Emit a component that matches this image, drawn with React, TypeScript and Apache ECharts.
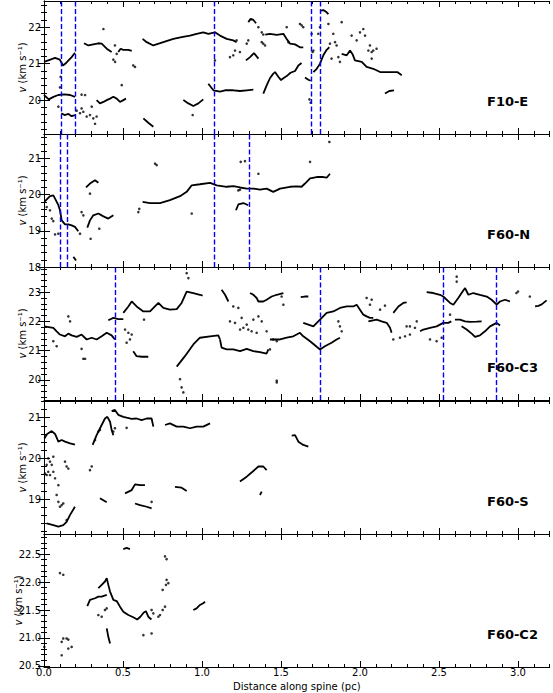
import React, { useEffect, useRef } from 'react';
import * as echarts from 'echarts';

const FONT = '"DejaVu Sans", sans-serif';
const X_MAX = 3.2;
const xMajorTicks = [0, 0.5, 1.0, 1.5, 2.0, 2.5, 3.0];

const panelNames = ['F10-E', 'F60-N', 'F60-C3', 'F60-S', 'F60-C2'];
const yRanges = [[19.07, 22.72], [18.0, 21.68], [19.31, 23.86], [18.14, 21.41], [20.48, 22.86]];
const yMajorTicks = [[20, 21, 22], [18, 19, 20, 21], [20, 21, 22, 23], [19, 20, 21], [20.5, 21.0, 21.5, 22.0, 22.5]];
const yMinorStep = [0.2, 0.2, 0.2, 0.2, 0.1];
const yLabelDecimals = [0, 0, 0, 0, 1];
const yNameGaps = [17, 17, 17, 17, 21];
const dashedLines = [
  [0.112, 0.2, 1.082, 1.69, 1.745],
  [0.103, 0.147, 1.078, 1.304],
  [0.449, 1.749, 2.532, 2.863],
  [],
  [],
];

// ---------- F10-E ----------
const f10eCurves = [
  [[0.0, 21.05], [0.04, 21.11], [0.07, 21.16], [0.1, 21.11], [0.12, 20.95], [0.14, 21.02], [0.175, 21.18], [0.196, 21.3]],
  [[0.0, 20.14], [0.03, 20.02], [0.06, 20.09], [0.09, 20.14], [0.13, 20.16], [0.165, 20.14], [0.196, 20.09]],
  [[0.11, 19.64], [0.13, 19.59], [0.155, 19.62], [0.175, 19.56], [0.196, 19.59]],
  [[0.333, 20.0], [0.354, 19.91], [0.376, 19.95], [0.397, 20.0], [0.418, 20.04], [0.439, 20.09], [0.46, 20.04], [0.481, 19.95], [0.502, 20.0], [0.519, 20.04]],
  [[0.253, 21.56], [0.281, 21.5], [0.312, 21.53], [0.344, 21.56], [0.365, 21.55], [0.397, 21.41], [0.428, 21.32]],
  [[0.47, 21.32], [0.485, 21.41], [0.502, 21.38], [0.534, 21.38], [0.555, 21.35]],
  [[0.629, 19.5], [0.66, 19.38], [0.692, 19.27]],
  [[0.624, 21.68], [0.65, 21.59], [0.692, 21.5], [0.755, 21.59], [0.819, 21.68], [0.871, 21.73], [0.924, 21.77], [0.966, 21.82], [1.008, 21.86], [1.04, 21.82], [1.082, 21.86], [1.114, 21.77], [1.156, 21.68], [1.198, 21.64], [1.219, 21.59]],
  [[1.4, 21.8], [1.43, 21.82], [1.473, 21.79], [1.515, 21.82], [1.536, 21.68], [1.557, 21.55], [1.589, 21.53], [1.62, 21.45], [1.641, 21.45]],
  [[1.04, 20.45], [1.072, 20.27], [1.114, 20.23], [1.146, 20.27], [1.198, 20.27], [1.241, 20.25], [1.283, 20.27], [1.325, 20.29]],
  [[1.388, 20.18], [1.41, 20.41], [1.43, 20.6], [1.45, 20.72], [1.462, 20.77], [1.483, 20.64], [1.5, 20.55], [1.515, 20.6], [1.536, 20.66], [1.56, 20.75], [1.589, 20.8], [1.61, 20.95], [1.63, 21.02]],
  [[1.652, 20.62], [1.673, 20.56], [1.688, 20.53]],
  [[1.705, 20.77], [1.726, 20.86], [1.747, 21.0], [1.768, 21.23], [1.789, 21.38], [1.806, 21.45]],
  [[1.884, 21.27], [1.916, 21.23], [1.937, 21.36], [1.954, 21.25], [1.968, 21.09], [2.011, 21.05], [2.042, 20.91], [2.084, 20.86], [2.127, 20.77], [2.169, 20.77], [2.211, 20.77], [2.236, 20.77], [2.264, 20.68]],
  [[2.158, 20.18], [2.186, 20.25], [2.215, 20.27]],
  [[0.882, 20.0], [0.914, 19.91], [0.945, 19.84], [0.977, 19.91], [1.008, 20.02]],
  [[1.293, 22.14], [1.308, 22.23], [1.325, 22.2], [1.342, 22.11]],
  [[1.278, 21.09], [1.304, 21.18], [1.329, 21.29], [1.357, 21.14]],
  [[1.747, 22.45], [1.768, 22.47], [1.789, 22.41], [1.8, 22.36]],
];
const f10eDots = [
  [0.091, 19.82], [0.105, 20.64], [0.101, 20.35], [0.207, 19.71], [0.228, 19.64], [0.249, 19.68], [0.27, 19.55], [0.291, 19.59],
  [0.312, 19.5], [0.333, 19.55], [0.238, 19.77], [0.302, 19.82], [0.323, 19.35], [0.238, 20.15], [0.26, 20.14], [0.492, 20.41],
  [0.376, 21.95], [0.449, 21.5], [0.46, 21.27], [0.439, 21.11], [0.45, 21.05], [0.565, 20.95], [0.576, 20.91], [0.941, 19.59],
  [1.198, 21.23], [1.177, 21.18], [1.24, 21.32], [1.209, 21.36], [1.219, 21.64], [1.283, 21.55], [1.293, 21.64], [1.388, 21.55],
  [1.378, 21.59], [1.399, 21.5], [1.357, 22.0], [1.378, 21.86], [1.388, 21.8], [1.082, 21.09], [1.705, 21.36], [1.736, 21.82],
  [1.747, 22.0], [1.8, 22.09], [1.81, 21.55], [1.831, 21.82], [1.842, 21.59], [1.852, 21.5], [1.863, 21.18], [1.82, 21.14],
  [1.873, 21.05], [1.884, 22.14], [1.947, 21.77], [1.979, 21.64], [2.0, 21.86], [2.021, 21.95], [2.032, 21.77], [2.063, 21.5],
  [2.053, 21.36], [2.074, 21.32], [2.084, 21.36], [2.105, 21.41], [2.074, 21.14], [1.536, 22.0], [1.62, 22.09], [1.631, 22.05],
  [1.641, 22.0], [1.547, 21.59], [1.7, 21.32], [1.694, 21.82], [1.68, 20.02], [1.688, 19.93],
];

// ---------- F60-N ----------
const f60nCurves = [
  [[0.002, 19.8], [0.038, 19.96], [0.059, 19.98], [0.07, 19.89], [0.091, 19.71], [0.101, 19.57], [0.112, 19.29], [0.133, 19.18], [0.154, 19.18], [0.175, 19.15], [0.196, 19.11], [0.217, 18.99]],
  [[0.266, 20.2], [0.291, 20.31], [0.323, 20.4], [0.344, 20.33]],
  [[0.274, 19.09], [0.291, 19.29], [0.312, 19.43], [0.344, 19.48], [0.376, 19.4], [0.407, 19.34], [0.439, 19.43]],
  [[0.624, 19.8], [0.671, 19.77], [0.734, 19.77], [0.797, 19.85], [0.861, 19.96], [0.903, 20.08], [0.935, 20.26], [0.987, 20.29], [1.051, 20.33], [1.093, 20.26], [1.156, 20.22], [1.198, 20.24], [1.241, 20.2], [1.283, 20.17], [1.325, 20.17], [1.367, 20.14], [1.409, 20.17], [1.451, 20.08], [1.494, 20.17], [1.557, 20.22], [1.599, 20.23], [1.63, 20.22], [1.652, 20.31], [1.684, 20.45], [1.726, 20.49], [1.768, 20.49], [1.789, 20.47], [1.81, 20.58]],
  [[1.215, 19.57], [1.23, 19.73], [1.262, 19.77], [1.293, 19.71]],
  [[0.186, 18.28], [0.203, 18.18]],
];
const f60nDots = [
  [0.038, 19.57], [0.049, 19.34], [0.059, 19.27], [0.07, 18.9], [0.091, 18.92], [0.017, 19.66], [0.228, 18.92], [0.238, 19.52],
  [0.249, 19.43], [0.291, 20.03], [0.295, 18.78], [0.35, 19.06], [0.597, 19.52], [0.603, 19.61], [0.703, 20.86], [0.713, 20.82],
  [0.935, 19.48], [1.245, 20.91], [1.272, 20.93], [1.357, 20.58], [1.23, 20.12], [1.24, 20.14], [1.684, 20.91], [1.806, 21.46],
];

// ---------- F60-C3 ----------
const f60c3Curves = [
  [[0.002, 21.83], [0.059, 21.78], [0.08, 21.66], [0.101, 21.55], [0.133, 21.49], [0.154, 21.58], [0.175, 21.52], [0.207, 21.47], [0.238, 21.55], [0.27, 21.38], [0.302, 21.44], [0.333, 21.38], [0.365, 21.49], [0.397, 21.61], [0.428, 21.52], [0.449, 21.38]],
  [[0.407, 22.04], [0.439, 22.12], [0.47, 22.08], [0.502, 22.08]],
  [[0.502, 22.29], [0.534, 22.51], [0.555, 22.68], [0.586, 22.51], [0.629, 22.34], [0.671, 22.34], [0.724, 22.63], [0.755, 22.46], [0.797, 22.4], [0.84, 22.42], [0.871, 22.63], [0.903, 23.02], [0.945, 22.97], [0.987, 22.91], [1.004, 22.88]],
  [[0.565, 20.98], [0.586, 20.81], [0.618, 20.79], [0.66, 20.79]],
  [[0.84, 20.45], [0.892, 20.81], [0.945, 21.21], [0.987, 21.44], [1.051, 21.49], [1.103, 21.52], [1.114, 21.38]],
  [[1.114, 21.38], [1.124, 21.1], [1.156, 21.04], [1.198, 21.04], [1.241, 20.98], [1.283, 21.06], [1.325, 20.98], [1.367, 20.95], [1.409, 20.9], [1.42, 21.04]],
  [[1.124, 23.08], [1.146, 22.91], [1.167, 22.68]],
  [[1.304, 22.97], [1.325, 22.91], [1.346, 22.8], [1.357, 22.68], [1.388, 22.68], [1.409, 22.74], [1.441, 22.85], [1.473, 22.91], [1.49, 22.93], [1.515, 22.97]],
  [[1.625, 22.83], [1.65, 22.85], [1.673, 22.85]],
  [[1.43, 21.38], [1.494, 21.38], [1.536, 21.44], [1.578, 21.49], [1.62, 21.61], [1.641, 21.49], [1.684, 21.32], [1.726, 21.13], [1.747, 21.04], [1.778, 21.15], [1.82, 21.27], [1.852, 21.38], [1.873, 21.44]],
  [[1.641, 21.95], [1.673, 21.89], [1.705, 21.83], [1.747, 22.06], [1.789, 22.29], [1.831, 22.34], [1.873, 22.46], [1.916, 22.51], [1.958, 22.51], [1.979, 22.57], [2.0, 22.4], [2.021, 22.23], [2.042, 22.17], [2.063, 22.12], [2.084, 22.12]],
  [[2.211, 22.29], [2.243, 22.51], [2.274, 22.63], [2.295, 22.65]],
  [[2.38, 21.66], [2.401, 21.72], [2.443, 21.78], [2.485, 21.83], [2.527, 21.95], [2.559, 21.95], [2.578, 22.0]],
  [[2.601, 22.06], [2.633, 22.06], [2.665, 22.0], [2.696, 21.98], [2.738, 21.99], [2.77, 22.0]],
  [[2.643, 21.83], [2.675, 21.72], [2.707, 21.58], [2.728, 21.47], [2.759, 21.52], [2.791, 21.66], [2.823, 21.83], [2.865, 21.95], [2.886, 21.86]],
  [[2.422, 23.0], [2.464, 22.97], [2.506, 22.91], [2.527, 22.85], [2.57, 22.63], [2.591, 22.57], [2.622, 22.8], [2.643, 22.97], [2.665, 23.14], [2.686, 22.91], [2.717, 22.97], [2.759, 22.91], [2.802, 22.85], [2.833, 22.74], [2.865, 22.57], [2.886, 22.68], [2.918, 22.74], [2.949, 22.68]],
  [[3.108, 22.51], [3.129, 22.53], [3.15, 22.58], [3.181, 22.72]],
  [[2.053, 22.0], [2.105, 22.06], [2.137, 22.0], [2.169, 21.95], [2.19, 21.78], [2.2, 21.61]],
];
const f60c3Dots = [
  [0.059, 21.32], [0.08, 21.15], [0.154, 22.17], [0.165, 22.0], [0.238, 21.06], [0.249, 20.72], [0.26, 20.72], [0.513, 21.72],
  [0.534, 21.61], [0.555, 21.55], [0.544, 21.38], [0.523, 21.27], [0.633, 22.06], [0.861, 20.02], [0.871, 19.74], [0.882, 19.57],
  [0.903, 23.65], [0.914, 23.48], [1.198, 22.51], [1.23, 22.46], [1.209, 21.95], [1.177, 22.0], [1.251, 22.12], [1.283, 21.89],
  [1.293, 21.72], [1.262, 21.78], [1.325, 22.06], [1.357, 22.17], [1.378, 22.0], [1.409, 21.66], [1.346, 21.61], [1.314, 21.66],
  [1.241, 21.72], [1.473, 19.97], [1.504, 22.85], [1.515, 22.57], [1.863, 22.0], [1.873, 21.83], [1.884, 21.66], [2.042, 22.8],
  [2.063, 22.57], [2.074, 22.74], [2.127, 22.4], [2.158, 22.54], [2.211, 21.38], [2.253, 21.44], [2.285, 21.49], [2.316, 21.55],
  [2.295, 21.83], [2.316, 21.83], [2.348, 21.78], [2.359, 22.0], [2.443, 21.38], [2.485, 21.32], [2.517, 21.44], [2.612, 23.53],
  [2.612, 23.36], [3.0, 23.02], [2.99, 22.97], [3.075, 22.85], [1.43, 21.04], [1.473, 19.91], [2.57, 22.23], [1.451, 21.38], [1.473, 21.32],
];

// ---------- F60-S ----------
const f60sCurves = [
  [[0.002, 20.49], [0.02, 20.6], [0.049, 20.67], [0.07, 20.6], [0.091, 20.41], [0.112, 20.45], [0.133, 20.41], [0.165, 20.37], [0.196, 20.34]],
  [[0.017, 18.4], [0.059, 18.36], [0.091, 18.32], [0.122, 18.36], [0.143, 18.44], [0.165, 18.61], [0.196, 18.81]],
  [[0.308, 20.33], [0.333, 20.57], [0.365, 20.82], [0.386, 20.98], [0.401, 21.02], [0.418, 20.9], [0.428, 20.7], [0.439, 20.57]],
  [[0.428, 21.16], [0.449, 21.19], [0.47, 21.07], [0.502, 21.02], [0.523, 21.0], [0.555, 20.97], [0.586, 20.98], [0.618, 20.94], [0.65, 20.98], [0.681, 20.98], [0.692, 20.78]],
  [[0.766, 20.82], [0.797, 20.86], [0.84, 20.78], [0.882, 20.78], [0.924, 20.74], [0.966, 20.78], [1.008, 20.78], [1.051, 20.86]],
  [[0.354, 19.02], [0.397, 18.92]],
  [[0.513, 19.14], [0.555, 19.22], [0.576, 19.36], [0.608, 19.34], [0.639, 19.34]],
  [[0.576, 18.89], [0.608, 18.85], [0.65, 18.81], [0.681, 18.77]],
  [[0.829, 19.3], [0.871, 19.28], [0.903, 19.2]],
  [[1.24, 19.43], [1.283, 19.55], [1.325, 19.69], [1.357, 19.8], [1.388, 19.8], [1.409, 19.71]],
  [[1.367, 19.1], [1.378, 19.18]],
  [[1.568, 20.56], [1.589, 20.57], [1.61, 20.41], [1.641, 20.33], [1.673, 20.29]],
];
const f60sDots = [
  [0.027, 20.0], [0.038, 19.92], [0.049, 19.84], [0.059, 19.67], [0.07, 19.51], [0.08, 19.1], [0.091, 18.93], [0.101, 18.81],
  [0.112, 18.85], [0.091, 19.34], [0.038, 19.59], [0.027, 19.67], [0.017, 19.84], [0.133, 19.92], [0.143, 19.8], [0.154, 19.75],
  [0.122, 18.89], [0.143, 18.48], [0.291, 19.71], [0.302, 19.8], [0.354, 20.7], [0.344, 20.66], [0.323, 20.45], [0.523, 20.75],
  [0.681, 18.93], [0.449, 20.74], [0.439, 20.66], [0.059, 20.04], [0.006, 19.63], [0.017, 19.59],
];

// ---------- F60-C2 ----------
const f60c2Curves = [
  [[0.274, 21.57], [0.291, 21.68], [0.323, 21.71], [0.344, 21.74], [0.365, 21.74], [0.397, 21.77]],
  [[0.344, 21.89], [0.365, 21.95], [0.386, 22.01], [0.397, 22.07], [0.407, 21.95], [0.418, 21.83], [0.439, 21.68], [0.46, 21.66], [0.481, 21.56], [0.502, 21.47], [0.534, 21.41], [0.565, 21.37], [0.59, 21.33], [0.61, 21.38], [0.63, 21.45], [0.645, 21.48], [0.66, 21.38], [0.68, 21.33]],
  [[0.502, 22.59], [0.523, 22.61], [0.544, 22.59]],
  [[0.945, 21.5], [0.966, 21.53], [0.987, 21.59], [1.008, 21.62], [1.019, 21.65]],
  [[0.397, 21.17], [0.407, 21.02], [0.418, 20.9]],
];
const f60c2Dots = [
  [0.002, 20.84], [0.101, 22.16], [0.122, 22.13], [0.112, 20.69], [0.112, 20.93], [0.122, 20.99], [0.143, 20.99], [0.154, 20.97],
  [0.154, 20.81], [0.175, 20.84], [0.344, 21.41], [0.365, 21.38], [0.386, 21.5], [0.397, 21.53], [0.629, 21.05], [0.681, 21.08],
  [0.681, 21.5], [0.692, 21.44], [0.734, 21.41], [0.751, 21.5], [0.766, 21.56], [0.751, 21.86], [0.772, 21.95], [0.776, 22.04],
  [0.787, 21.98], [0.766, 22.46], [0.776, 22.41], [0.724, 21.38],
];

const panelCurves = [f10eCurves, f60nCurves, f60c3Curves, f60sCurves, f60c2Curves];
const panelDots = [f10eDots, f60nDots, f60c3Dots, f60sDots, f60c2Dots];

const GRID_LEFT = 44;
const GRID_WIDTH = 505.6;
const GRID_TOPS = [1, 134, 267, 401, 534];
const GRID_HEIGHT = 133;

function stepTicks(min: number, max: number, step: number): number[] {
  const out: number[] = [];
  const start = Math.ceil(min / step - 1e-9);
  const end = Math.floor(max / step + 1e-9);
  for (let k = start; k <= end; k++) out.push(Math.round(k * step * 1000) / 1000);
  return out;
}

function buildOption() {
  const black = '#000';
  const tickLine = { color: black, width: 1 };
  const grid: any[] = [];
  const xAxis: any[] = [];
  const yAxis: any[] = [];
  const series: any[] = [];
  const graphic: any[] = [];
  const xMinor = stepTicks(0, X_MAX, 0.1);

  panelNames.forEach((name, i) => {
    grid.push({
      left: GRID_LEFT,
      width: GRID_WIDTH,
      top: GRID_TOPS[i],
      height: GRID_HEIGHT,
      containLabel: false,
      outerBoundsMode: 'none',
    });
    const last = i === panelNames.length - 1;
    const [ymin, ymax] = yRanges[i];
    const yMinor = stepTicks(ymin, ymax, yMinorStep[i]);

    const xBase = { gridIndex: i, type: 'value', min: 0, max: X_MAX, splitLine: { show: false } };
    ['bottom', 'top'].forEach((pos) => {
      xAxis.push({
        ...xBase,
        position: pos,
        axisLine: { show: true, lineStyle: { color: black, width: 1 } },
        axisTick: { show: true, inside: true, length: 6, customValues: xMajorTicks, lineStyle: tickLine },
        axisLabel: {
          show: last && pos === 'bottom',
          customValues: xMajorTicks,
          formatter: (v: number) => v.toFixed(1),
          margin: 0,
          fontSize: 10,
          fontFamily: FONT,
          color: black,
        },
        name: last && pos === 'bottom' ? 'Distance along spine (pc)' : '',
        nameLocation: 'middle',
        nameGap: 14,
        nameMoveOverlap: false,
        nameTextStyle: { fontSize: 10, fontFamily: FONT, color: black },
      });
      xAxis.push({
        ...xBase,
        position: pos,
        axisLine: { show: false },
        axisTick: { show: true, inside: true, length: 3, customValues: xMinor, lineStyle: tickLine },
        axisLabel: { show: false },
      });
    });

    const yBase = { gridIndex: i, type: 'value', min: ymin, max: ymax, splitLine: { show: false } };
    ['left', 'right'].forEach((pos) => {
      yAxis.push({
        ...yBase,
        position: pos,
        axisLine: { show: true, lineStyle: { color: black, width: 1 } },
        axisTick: { show: true, inside: true, length: 6, customValues: yMajorTicks[i], lineStyle: tickLine },
        axisLabel: {
          show: pos === 'left',
          customValues: yMajorTicks[i],
          formatter: (v: number) => v.toFixed(yLabelDecimals[i]),
          margin: 3,
          fontSize: 10,
          fontFamily: FONT,
          color: black,
        },
        name: pos === 'left' ? '{it|v} (km s\u207B\u00B9)' : '',
        nameLocation: 'middle',
        nameRotate: 90,
        nameGap: yNameGaps[i],
        nameMoveOverlap: false,
        nameTextStyle: {
          fontSize: 10,
          fontFamily: FONT,
          color: black,
          rich: { it: { fontStyle: 'italic', fontSize: 10, fontFamily: FONT, color: black } },
        },
      });
      yAxis.push({
        ...yBase,
        position: pos,
        axisLine: { show: false },
        axisTick: { show: true, inside: true, length: 3, customValues: yMinor, lineStyle: tickLine },
        axisLabel: { show: false },
      });
    });

    const xi = i * 4;
    const yi = i * 4;
    panelCurves[i].forEach((c) => {
      series.push({
        type: 'line',
        xAxisIndex: xi,
        yAxisIndex: yi,
        data: c,
        symbol: 'none',
        showSymbol: false,
        silent: true,
        clip: true,
        lineStyle: { color: black, width: 1.8 },
        z: 3,
      });
    });
    const scatter: any = {
      type: 'scatter',
      xAxisIndex: xi,
      yAxisIndex: yi,
      data: panelDots[i],
      symbolSize: 2.6,
      silent: true,
      clip: true,
      itemStyle: { color: black },
      z: 3,
    };
    if (dashedLines[i].length) {
      scatter.markLine = {
        silent: true,
        symbol: ['none', 'none'],
        label: { show: false },
        lineStyle: { color: '#0000ff', type: [5, 2.5], width: 1.4 },
        data: dashedLines[i].map((v) => ({ xAxis: v })),
      };
    }
    series.push(scatter);

    graphic.push({
      type: 'text',
      left: 487,
      top: GRID_TOPS[i] + GRID_HEIGHT - 39,
      style: { text: name, font: `bold 13px ${FONT}`, fill: black },
      z: 10,
    });
  });

  return {
    animation: false,
    backgroundColor: '#fff',
    grid,
    xAxis,
    yAxis,
    series,
    graphic,
  };
}

export default function App() {
  const ref = useRef<HTMLDivElement>(null);
  useEffect(() => {
    const chart = echarts.init(ref.current!, null, { renderer: 'svg' });
    chart.setOption(buildOption() as any);
    return () => chart.dispose();
  }, []);
  return (
    <div
      ref={ref}
      style={{ position: 'fixed', left: 0, top: 0, width: 553, height: 693, background: '#fff' }}
    />
  );
}
